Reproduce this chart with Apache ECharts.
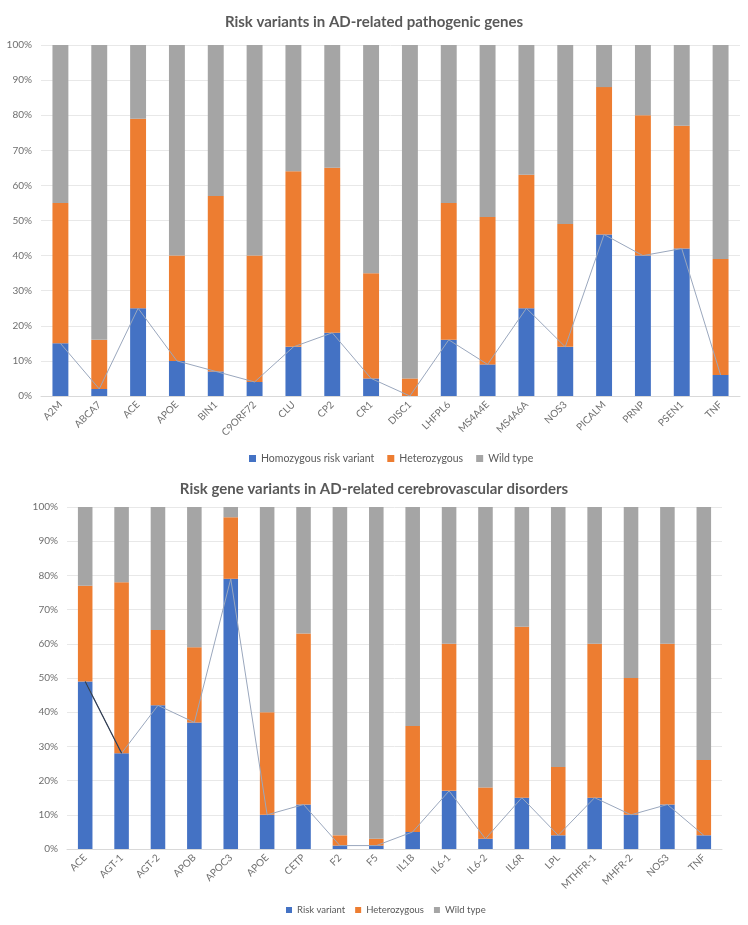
<!DOCTYPE html>
<html>
<head>
<meta charset="utf-8">
<script src="https://cdn.jsdelivr.net/npm/echarts@6/dist/echarts.min.js"></script>
<style>html,body{margin:0;padding:0;background:#fff}#c{width:748px;height:925px}</style>
</head>
<body>
<div id="c"></div>
<script>
// ---- Chart 1 data ----
var genes1 = ['A2M','ABCA7','ACE','APOE','BIN1','C9ORF72','CLU','CP2','CR1','DISC1','LHFPL6','MS4A4E','MS4A6A','NOS3','PICALM','PRNP','PSEN1','TNF'];
var hom1  = [15, 2, 25, 10, 7, 4, 14, 18, 5, 0, 16, 9, 25, 14, 46, 40, 42, 6];
var het1  = [40, 14, 54, 30, 50, 36, 50, 47, 30, 5, 39, 42, 38, 35, 42, 40, 35, 33];
var wild1 = [45, 84, 21, 60, 43, 60, 36, 35, 65, 95, 45, 49, 37, 51, 12, 20, 23, 61];

// ---- Chart 2 data ----
var genes2 = ['ACE','AGT-1','AGT-2','APOB','APOC3','APOE','CETP','F2','F5','IL1B','IL6-1','IL6-2','IL6R','LPL','MTHFR-1','MHFR-2','NOS3','TNF'];
var risk2 = [49, 28, 42, 37, 79, 10, 13, 1, 1, 5, 17, 3, 15, 4, 15, 10, 13, 4];
var het2  = [28, 50, 22, 22, 18, 30, 50, 3, 2, 31, 43, 15, 50, 20, 45, 40, 47, 22];
var wild2 = [23, 22, 36, 41, 3, 60, 37, 96, 97, 64, 40, 82, 35, 76, 40, 50, 40, 74];

var BLUE = '#4472c4', ORANGE = '#ed7d31', GREY = '#a5a5a5';
var TXT = '#595959', AX = '#6f6f6f', FONT = 'Lato';

function xAxis(idx, cats) {
  return {
    type: 'category', gridIndex: idx, data: cats,
    axisLine: {lineStyle: {color: '#d9d9d9'}},
    axisTick: {show: false},
    axisLabel: {rotate: 45, color: AX, fontSize: 10, fontFamily: FONT, interval: 0, margin: 7}
  };
}
function yAxis(idx) {
  return {
    type: 'value', gridIndex: idx, min: 0, max: 100, interval: 10,
    axisLine: {show: false}, axisTick: {show: false},
    splitLine: {lineStyle: {color: '#e8e8e8'}},
    axisLabel: {color: AX, fontSize: 10, fontFamily: FONT, margin: 9,
      formatter: function (v) { return v + '%'; }}
  };
}
function bar(name, data, color, idx, stack, bw) {
  return {name: name, type: 'bar', stack: stack, xAxisIndex: idx, yAxisIndex: idx,
    data: data, barWidth: bw, itemStyle: {color: color}, animation: false};
}
function line(data, idx, color, w) {
  return {type: 'line', xAxisIndex: idx, yAxisIndex: idx, data: data, symbol: 'none',
    lineStyle: {color: color, width: w}, z: 5, animation: false, silent: true, connectNulls: false};
}

var chart = echarts.init(document.getElementById('c'), null, {renderer: 'canvas'});
chart.setOption({
  animation: false,
  title: [
    {text: 'Risk variants in AD-related pathogenic genes', left: 'center', top: 10,
      textStyle: {color: TXT, fontSize: 15, fontWeight: 'bold', fontFamily: FONT}},
    {text: 'Risk gene variants in AD-related cerebrovascular disorders', left: 'center', top: 477,
      textStyle: {color: TXT, fontSize: 15, fontWeight: 'bold', fontFamily: FONT}}
  ],
  legend: [
    {data: ['Homozygous risk variant', 'Heterozygous', 'Wild type'], left: 244, top: 448,
      itemWidth: 7, itemHeight: 7, itemGap: 13, icon: 'rect',
      textStyle: {color: TXT, fontSize: 10.5, fontFamily: FONT}},
    {data: ['Risk variant', 'Heterozygous', 'Wild type'], left: 281, top: 900,
      itemWidth: 6, itemHeight: 6, itemGap: 10, icon: 'rect',
      textStyle: {color: TXT, fontSize: 9.5, fontFamily: FONT}}
  ],
  grid: [
    {left: 41, right: 8, top: 45, height: 351},
    {left: 67, right: 26, top: 507, height: 342}
  ],
  xAxis: [xAxis(0, genes1), xAxis(1, genes2)],
  yAxis: [yAxis(0), yAxis(1)],
  series: [
    bar('Homozygous risk variant', hom1, BLUE, 0, 'a', '41%'),
    bar('Heterozygous', het1, ORANGE, 0, 'a', '41%'),
    bar('Wild type', wild1, GREY, 0, 'a', '41%'),
    line(hom1, 0, '#9aa7bd', 1),
    bar('Risk variant', risk2, BLUE, 1, 'b', '40%'),
    bar('Heterozygous', het2, ORANGE, 1, 'b', '40%'),
    bar('Wild type', wild2, GREY, 1, 'b', '40%'),
    line(risk2, 1, '#9aa7bd', 1),
    line(risk2.map(function (v, i) { return i < 2 ? v : '-'; }), 1, '#2f3b4f', 1.2)
  ]
});
</script>
</body>
</html>
